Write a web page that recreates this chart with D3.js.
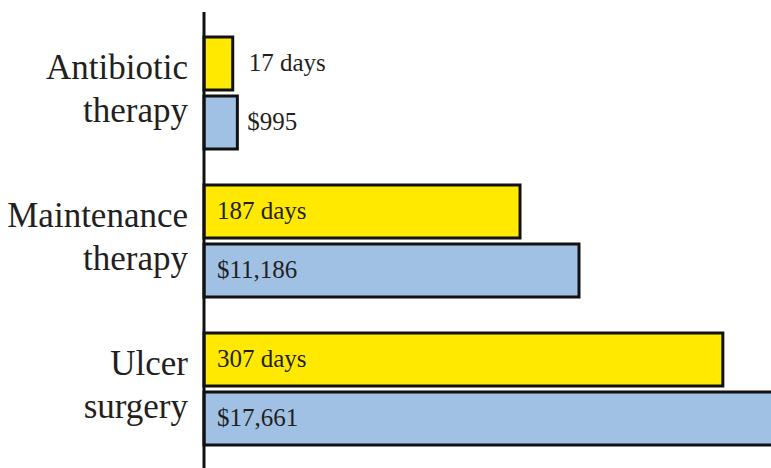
<!DOCTYPE html>
<html>
<head>
<meta charset="utf-8">
<script src="https://cdn.jsdelivr.net/npm/d3@7"></script>
<style>
  body { margin: 0; background: #fff; }
  text { font-family: "Liberation Serif", "Times New Roman", serif; fill: #231f20; }
</style>
</head>
<body>
<div id="chart"></div>
<script>
var categories = [["Antibiotic", "therapy"], ["Maintenance", "therapy"], ["Ulcer", "surgery"]];
var days = [17, 187, 307];
var costs = [995, 11186, 17661];
var dayLabels = ["17 days", "187 days", "307 days"];
var costLabels = ["$995", "$11,186", "$17,661"];

var width = 771;
var height = 468;
var x0 = 204;   // left edge of bars / axis line

var svg = d3.select("#chart")
  .append("svg")
  .attr("width", width)
  .attr("height", height);

// group positions
var yGroup = d3.scaleBand()
  .domain(d3.range(categories.length))
  .range([19, 19 + 444])
  .paddingInner(36 / 148)
  .paddingOuter(18 / 148);

var ySub = d3.scaleBand()
  .domain(["days", "cost"])
  .range([0, yGroup.bandwidth()])
  .paddingInner(6 / 59);

// separate scales for the two series
var xDays = d3.scaleLinear().domain([0, 300]).range([0, 507]);
var xCost = d3.scaleLinear().domain([0, 11186]).range([0, 375]);

var rows = d3.range(categories.length).map(function(i) {
  return [
    { key: "days", i: i, w: xDays(days[i]), label: dayLabels[i], fill: "#ffe900", off: 16 },
    { key: "cost", i: i, w: xCost(costs[i]), label: costLabels[i], fill: "#a1c1e4", off: 10 }
  ];
});
var bars = d3.merge(rows);

svg.append("g")
  .selectAll("rect")
  .data(bars)
  .enter()
  .append("rect")
  .attr("x", x0)
  .attr("y", function(d) { return yGroup(d.i) + ySub(d.key); })
  .attr("width", function(d) { return d.w; })
  .attr("height", ySub.bandwidth())
  .attr("fill", function(d) { return d.fill; })
  .attr("stroke", "#111")
  .attr("stroke-width", 3);

// value labels: inside the bar if wide, else to the right
svg.append("g")
  .selectAll("text")
  .data(bars)
  .enter()
  .append("text")
  .attr("x", function(d) { return d.w > 100 ? x0 + 13 : x0 + d.w + d.off; })
  .attr("y", function(d) { return yGroup(d.i) + ySub(d.key) + ySub.bandwidth() / 2 + 7; })
  .attr("font-size", 25)
  .text(function(d) { return d.label; });

// category labels
var cat = svg.append("g")
  .selectAll("text")
  .data(categories)
  .enter()
  .append("text")
  .attr("text-anchor", "end")
  .attr("font-size", 35);

cat.selectAll("tspan")
  .data(function(d, i) { return d.map(function(s, j) { return { s: s, j: j, i: i }; }); })
  .enter()
  .append("tspan")
  .attr("x", 188)
  .attr("y", function(d) { return yGroup(d.i) + yGroup.bandwidth() / 2 - 14 + d.j * 43; })
  .text(function(d) { return d.s; });

// vertical axis line
svg.append("line")
  .attr("x1", x0).attr("x2", x0)
  .attr("y1", 12).attr("y2", height)
  .attr("stroke", "#111")
  .attr("stroke-width", 3);
</script>
</body>
</html>
